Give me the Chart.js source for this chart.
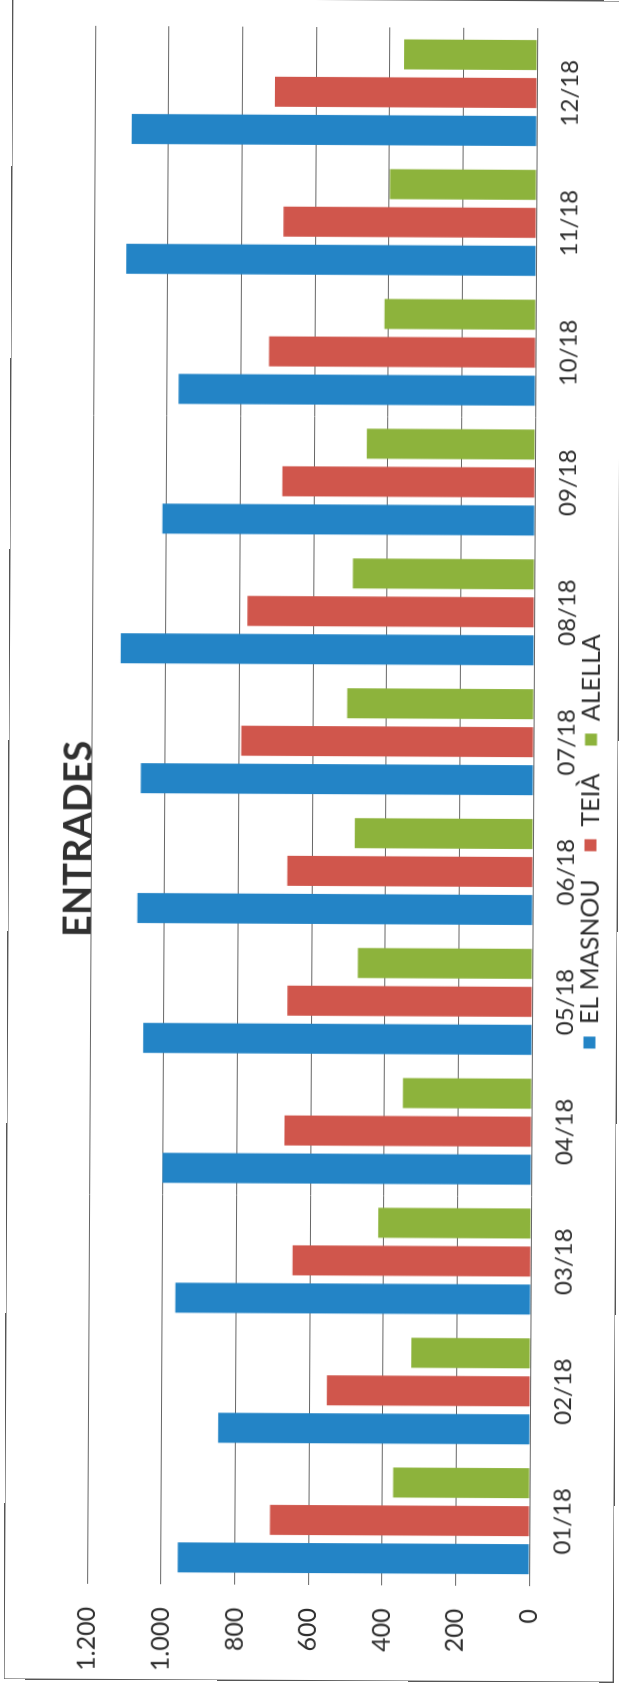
<!DOCTYPE html>
<html>
<head>
<meta charset="utf-8">
<script src="https://cdn.jsdelivr.net/npm/chart.js@4.4.1/dist/chart.umd.min.js"></script>
<style>
  html, body { margin: 0; padding: 0; background: #fff; }
  body { width: 619px; height: 1688px; position: relative; overflow: hidden; }
  /* the scanned chart lies on its side, slightly skewed */
  #frame {
    position: absolute; left: 312.6px; top: 840px;
    width: 1680px; height: 608px;
    transform: translate(-50%, -50%) rotate(-89.7deg);
    outline: 1.5px solid #555;
  }
</style>
</head>
<body>
<div id="frame"><canvas id="chart" width="1680" height="608"></canvas></div>
<script>
// values
const months = ['01/18', '02/18', '03/18', '04/18', '05/18', '06/18', '07/18', '08/18', '09/18', '10/18', '11/18', '12/18'];
const elMasnou = [955, 847, 965, 1002, 1056, 1074, 1066, 1123, 1011, 969, 1113, 1100];
const teia = [705, 552, 647, 671, 665, 667, 794, 779, 686, 724, 687, 712];
const alella = [371, 323, 415, 350, 474, 484, 507, 493, 457, 411, 398, 361];
const valueTicks = [0, 200, 400, 600, 800, 1000, 1200];
const valueTickLabels = ['0', '200', '400', '600', '800', '1.000', '1.200'];

const family = 'Lato';
const textColor = '#2e2e2e';

const ctx = document.getElementById('chart').getContext('2d');
new Chart(ctx, {
    type: 'bar',
    data: {
        labels: months,
        datasets: [
            { label: 'EL MASNOU', data: elMasnou, backgroundColor: '#2384C6' },
            { label: 'TEIÀ', data: teia, backgroundColor: '#D0564C' },
            { label: 'ALELLA', data: alella, backgroundColor: '#8DB33C' }
        ]
    },
    options: {
        responsive: false,
        animation: false,
        layout: { padding: { top: 57.6, right: 0, left: 0, bottom: 4 } },
        datasets: { bar: { categoryPercentage: 0.878, barPercentage: 0.79 } },
        plugins: {
            title: {
                display: true,
                text: 'ENTRADES',
                color: '#303030',
                font: { family, size: 38, weight: 'bold', lineHeight: 0.65 },
                padding: { top: 0, bottom: 0 }
            },
            legend: {
                position: 'bottom',
                labels: {
                    color: textColor,
                    font: { family, size: 25 },
                    boxWidth: 12,
                    boxHeight: 12,
                    padding: 3,
                    // wider gaps between items, as in the original
                    generateLabels: (chart) => {
                        const items = Chart.defaults.plugins.legend.labels.generateLabels(chart);
                        items.forEach((item, i) => {
                            if (i < items.length - 1) item.text += '\u2002\u2002';
                        });
                        return items;
                    }
                }
            },
            tooltip: { enabled: false }
        },
        scales: {
            x: {
                grid: { display: false, drawTicks: false },
                border: { display: false },
                ticks: { color: textColor, font: { family, size: 24 }, padding: 19 },
                afterFit: (scale) => { scale.height = 42; }
            },
            y: {
                min: 0,
                max: 1200,
                afterBuildTicks: (scale) => { scale.ticks = valueTicks.map(v => ({ value: v })); },
                ticks: {
                    color: textColor,
                    font: { family, size: 25 },
                    padding: 23,
                    callback: (value, index) => valueTickLabels[index]
                },
                grid: { color: '#666', lineWidth: 1, drawTicks: false },
                border: { display: false },
                afterFit: (scale) => { scale.width = 95; }
            },
            // empty strip on the right, keeps the title centred like the original
            spacer: {
                type: 'linear',
                position: 'right',
                ticks: { display: false },
                grid: { display: false, drawTicks: false },
                border: { display: false },
                afterFit: (scale) => { scale.width = 27; }
            }
        }
    }
});
</script>
</body>
</html>
